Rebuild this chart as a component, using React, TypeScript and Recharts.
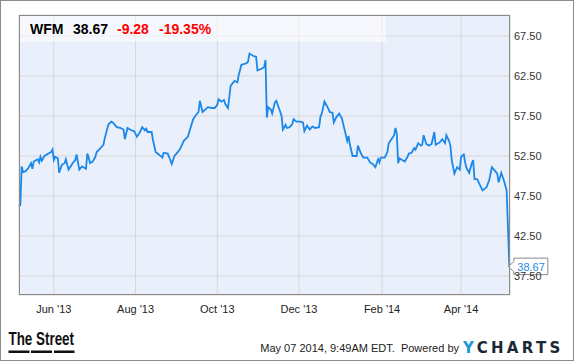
import { LineChart, Line, XAxis, YAxis, CartesianGrid, ReferenceDot } from 'recharts';

// days counted from May 6 2013
const days = [
  0, 1, 2, 3, 5, 7, 9, 10, 11, 14, 15, 16, 17, 19, 22, 24, 25, 26, 27, 29,
  30, 32, 34, 35, 36, 37, 39, 40, 42, 43, 45, 47, 48, 50, 51, 52, 53, 55, 57, 58,
  61, 63, 64, 66, 67, 69, 70, 73, 76, 78, 79, 81, 84, 86, 88, 90, 92, 94, 95, 96,
  99, 100, 102, 105, 107, 108, 111, 112, 114, 116, 118, 120, 123, 126, 128, 130, 132, 134, 135, 137,
  139, 141, 144, 146, 148, 149, 151, 153, 154, 156, 158, 160, 161, 163, 164, 166, 168, 170, 171, 172,
  175, 177, 178, 181, 183, 184, 185, 186, 188, 189, 191, 192, 194, 196, 197, 199, 200, 202, 204, 205,
  207, 210, 212, 213, 215, 217, 219, 221, 224, 225, 226, 228, 230, 232, 234, 235, 237, 239, 241, 243,
  245, 246, 247, 249, 252, 253, 255, 257, 260, 262, 264, 266, 268, 269, 270, 273, 275, 276, 278, 280,
  281, 282, 283, 284, 286, 288, 290, 291, 293, 295, 296, 298, 300, 301, 302, 304, 306, 308, 310, 311,
  314, 316, 318, 319, 321, 322, 323, 325, 327, 329, 330, 332, 333, 334, 336, 338, 339, 340, 342, 344,
  346, 349, 351, 353, 355, 357, 358, 360, 362, 364, 366,
];

const prices = [
  46.2, 46.4, 51.2, 50.5, 50.6, 51.0, 51.6, 50.9, 51.8, 52.1, 51.7, 52.4, 51.9, 52.5, 52.8, 53.0, 53.3, 52.0, 52.4, 52.2,
  50.4, 51.4, 51.6, 52.1, 51.4, 50.8, 51.3, 51.6, 52.0, 52.7, 50.8, 51.2, 51.1, 50.9, 52.8, 52.3, 51.6, 51.8, 52.4, 53.0,
  53.5, 53.9, 54.7, 56.0, 56.5, 56.8, 56.7, 56.1, 56.0, 55.8, 54.6, 56.0, 55.7, 55.6, 54.9, 55.4, 56.1, 55.7, 55.9, 55.5,
  55.5, 54.5, 53.0, 52.6, 52.3, 52.9, 52.8, 52.4, 51.5, 52.5, 52.9, 53.3, 54.4, 54.9, 56.0, 57.1, 57.6, 58.0, 59.4, 58.0,
  58.3, 58.6, 58.5, 58.5, 58.9, 59.6, 59.3, 59.5, 59.0, 58.5, 61.3, 61.7, 61.9, 61.7, 62.6, 63.9, 64.0, 64.1, 64.3, 65.3,
  65.0, 64.9, 63.2, 63.4, 63.6, 64.5, 57.3, 58.6, 58.3, 57.8, 59.2, 59.4, 58.5, 57.5, 55.8, 56.4, 56.0, 56.1, 56.5, 57.1,
  56.8, 56.8, 56.7, 55.6, 56.3, 55.8, 56.2, 56.0, 56.1, 57.4, 57.8, 59.3, 58.7, 58.0, 57.9, 56.7, 57.4, 57.8, 57.2, 55.8,
  54.4, 55.0, 53.9, 52.5, 52.5, 53.8, 52.9, 52.3, 52.3, 51.7, 51.5, 51.1, 52.1, 51.7, 52.3, 52.3, 53.0, 54.1, 54.6, 55.1,
  56.0, 55.3, 51.6, 52.2, 52.0, 51.8, 52.4, 52.8, 52.9, 53.5, 53.3, 54.1, 53.8, 53.9, 55.1, 54.0, 53.8, 54.0, 55.5, 53.9,
  54.2, 54.6, 54.1, 55.1, 54.4, 53.8, 52.0, 50.3, 51.1, 50.8, 52.4, 52.7, 51.7, 51.0, 50.4, 51.6, 52.0, 49.6, 49.6, 48.9,
  48.2, 48.6, 49.5, 51.1, 50.7, 50.3, 49.2, 50.4, 49.4, 48.2, 38.67,
];

const monthTicks = [26, 87, 148, 209, 271, 330];
const monthLabels = ["Jun '13", "Aug '13", "Oct '13", "Dec '13", "Feb '14", "Apr '14"];
const priceTicks = [37.5, 42.5, 47.5, 52.5, 57.5, 62.5, 67.5];

const data = days.map((day, i) => ({ day, price: prices[i] }));
const last = data[data.length - 1];

const FONT = '"Liberation Sans", Arial, sans-serif';

const PriceTag = ({ cx, cy }: any) => (
  <g>
    <path
      d={`M${cx - 1},${cy} L${cx + 4.5},${cy - 5} L${cx + 4.5},${cy - 8.5} L${cx + 38.5},${cy - 8.5} L${cx + 38.5},${cy + 8} L${cx + 4.5},${cy + 8} L${cx + 4.5},${cy + 5} Z`}
      fill="#fff"
      stroke="#8a8a8a"
    />
    <text x={cx + 8} y={cy + 4} fill="#1e88e5" fontSize={11} fontFamily={FONT}>
      {last.price.toFixed(2)}
    </text>
  </g>
);

export default function App() {
  return (
    <div style={{ position: 'absolute', left: 0, top: 0, width: 575, height: 362, background: '#fff', fontFamily: FONT }}>
      <LineChart width={575} height={362} data={data} margin={{ top: 15, right: 0, bottom: 47, left: 19 }}>
        <CartesianGrid stroke="#d6d6d6" fill="#eaf0fb" fillOpacity={1} />
        <XAxis
          dataKey="day"
          type="number"
          domain={[0, 366.5]}
          ticks={monthTicks}
          tickFormatter={(v: number) => monthLabels[monthTicks.indexOf(v)]}
          axisLine={false}
          tickLine={false}
          tickSize={0}
          tickMargin={10}
          height={20}
          tick={{ fill: '#222', fontSize: 11, fontFamily: FONT }}
        />
        <YAxis
          orientation="right"
          domain={[35.125, 70.125]}
          allowDataOverflow
          ticks={priceTicks}
          tickFormatter={(v: number) => v.toFixed(2)}
          axisLine={false}
          tickLine={false}
          tickSize={0}
          tickMargin={4}
          width={65}
          tick={{ fill: '#333', fontSize: 11, fontFamily: FONT, textAnchor: 'start' }}
        />
        <Line
          type="linear"
          dataKey="price"
          stroke="#1b87e8"
          strokeWidth={1.8}
          dot={false}
          isAnimationActive={false}
        />
        <ReferenceDot x={last.day} y={last.price} r={0} shape={<PriceTag />} />
      </LineChart>

      {/* plot frame and header band */}
      <div style={{ position: 'absolute', left: 19, top: 15, width: 491, height: 280, border: '1px solid #8a8a8a', boxSizing: 'border-box', pointerEvents: 'none' }} />
      <div style={{ position: 'absolute', left: 20, top: 16, width: 366, height: 26, background: 'rgba(255,255,255,0.55)' }} />
      <div style={{ position: 'absolute', top: 22, left: 0, fontSize: 14, lineHeight: '14px', fontWeight: 'bold', whiteSpace: 'nowrap' }}>
        <span style={{ position: 'absolute', left: 30, color: '#000' }}>WFM</span>
        <span style={{ position: 'absolute', left: 73, color: '#000' }}>38.67</span>
        <span style={{ position: 'absolute', left: 117, color: '#ff0000' }}>-9.28</span>
        <span style={{ position: 'absolute', left: 159, color: '#ff0000' }}>-19.35%</span>
      </div>

      {/* footer */}
      <svg style={{ position: 'absolute', left: 0, top: 320 }} width={100} height={38}>
        <text x={8.5} y={25} fontSize={18} fontWeight="bold" fontFamily={FONT} textLength={65.5} lengthAdjust="spacingAndGlyphs" fill="#111">
          The Street
        </text>
        <rect x={8.5} y={30.5} width={21} height={2.5} fill="#111" />
        <rect x={31} y={30.5} width={21} height={2.5} fill="#111" />
        <rect x={54} y={30.5} width={20.5} height={2.5} fill="#111" />
      </svg>
      <div style={{ position: 'absolute', right: 575 - 459, top: 343, fontSize: 11, lineHeight: '11px', color: '#222', whiteSpace: 'nowrap' }}>
        May 07 2014, 9:49AM EDT.&nbsp; Powered by
      </div>
      <div style={{ position: 'absolute', left: 463, top: 341, fontSize: 15, lineHeight: '15px', fontWeight: 'bold', fontFamily: '"DejaVu Sans", sans-serif', letterSpacing: 3.3, whiteSpace: 'nowrap', color: '#1c2736' }}>
        <span style={{ color: '#1a9ad6' }}>Y</span>CHARTS
      </div>

      <div style={{ position: 'absolute', left: 0, top: 0, width: 574, height: 361, border: '1px solid #8c8c8c', boxSizing: 'border-box', pointerEvents: 'none' }} />
    </div>
  );
}
